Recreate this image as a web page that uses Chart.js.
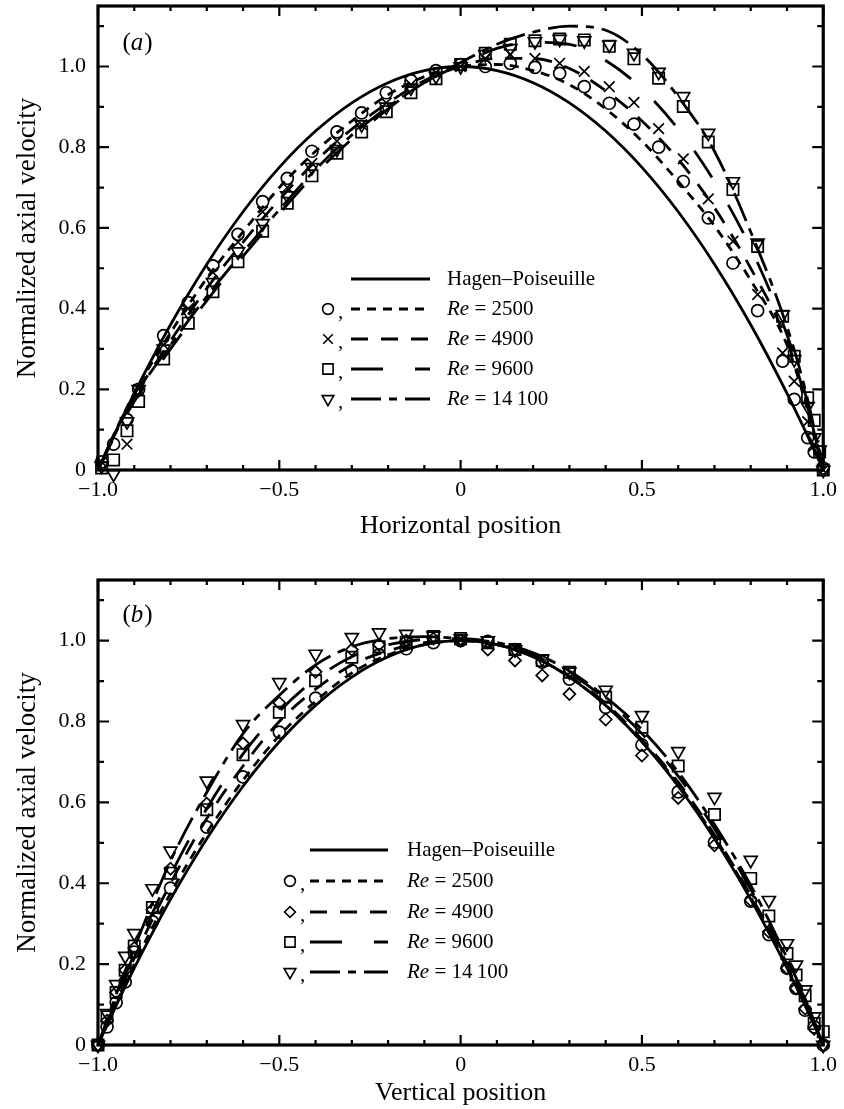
<!DOCTYPE html>
<html>
<head>
<meta charset="utf-8">
<script src="https://cdn.jsdelivr.net/npm/chart.js@4.4.0/dist/chart.umd.min.js"></script>
<style>
  html, body { margin: 0; padding: 0; background: #fff; }
  #wrap { position: relative; width: 844px; height: 1109px; overflow: hidden; }
  #chartA { position: absolute; left: 0; top: -24px; }
  #chartB { position: absolute; left: 0; top: 550px; }
</style>
</head>
<body>
<div id="wrap">
  <canvas id="chartA" width="844" height="574"></canvas>
  <canvas id="chartB" width="844" height="559"></canvas>
</div>
<script>
// axis ticks
var xTickVals = [-1, -0.5, 0, 0.5, 1];
var xTickLabels = ['−1.0', '−0.5', '0', '0.5', '1.0'];
var yTickVals = [0, 0.2, 0.4, 0.6, 0.8, 1.0];
var yTickLabels = ['0', '0.2', '0.4', '0.6', '0.8', '1.0'];
var reLabels = ['2500', '4900', '9600', '14\u2009100'];

// fitted curves (at these positions)
var curveX = [-1, -0.95, -0.9, -0.8, -0.7, -0.6, -0.5, -0.4, -0.3, -0.2, -0.1, 0, 0.1, 0.2, 0.3, 0.4, 0.5, 0.6, 0.7, 0.8, 0.9, 0.95, 1];
var hagenPoiseuille = [0, 0.0975, 0.19, 0.36, 0.51, 0.64, 0.75, 0.84, 0.91, 0.96, 0.99, 1.0, 0.99, 0.96, 0.91, 0.84, 0.75, 0.64, 0.51, 0.36, 0.19, 0.0975, 0];

var fitA2500  = [0, 0.10, 0.19, 0.34, 0.475, 0.59, 0.70, 0.79, 0.865, 0.93, 0.975, 1.0, 1.005, 0.99, 0.955, 0.895, 0.815, 0.715, 0.605, 0.47, 0.31, 0.17, 0];
var fitA4900  = [0, 0.095, 0.18, 0.32, 0.45, 0.565, 0.67, 0.765, 0.845, 0.91, 0.965, 1.0, 1.02, 1.02, 0.995, 0.94, 0.865, 0.77, 0.65, 0.5, 0.32, 0.18, 0];
var fitA9600  = [0, 0.09, 0.17, 0.30, 0.42, 0.53, 0.635, 0.735, 0.82, 0.895, 0.96, 1.005, 1.045, 1.06, 1.055, 1.015, 0.945, 0.845, 0.715, 0.55, 0.335, 0.19, 0];
var fitA14100 = [0, 0.095, 0.18, 0.31, 0.43, 0.54, 0.645, 0.745, 0.83, 0.9, 0.96, 1.01, 1.055, 1.085, 1.10, 1.09, 1.03, 0.925, 0.79, 0.59, 0.355, 0.2, 0];

var fitB2500  = [0, 0.10, 0.20, 0.375, 0.525, 0.655, 0.765, 0.85, 0.92, 0.965, 0.99, 1.0, 0.99, 0.96, 0.91, 0.84, 0.75, 0.645, 0.515, 0.365, 0.195, 0.10, 0];
var fitB4900  = [0, 0.11, 0.215, 0.40, 0.56, 0.69, 0.80, 0.88, 0.94, 0.975, 0.995, 1.0, 0.99, 0.96, 0.912, 0.845, 0.755, 0.65, 0.52, 0.37, 0.20, 0.105, 0];
var fitB9600  = [0, 0.115, 0.225, 0.42, 0.585, 0.72, 0.825, 0.905, 0.96, 0.99, 1.003, 1.005, 0.995, 0.965, 0.92, 0.855, 0.77, 0.665, 0.535, 0.385, 0.21, 0.11, 0];
var fitB14100 = [0, 0.125, 0.24, 0.455, 0.625, 0.77, 0.865, 0.94, 0.985, 1.005, 1.01, 1.005, 0.995, 0.97, 0.925, 0.86, 0.78, 0.675, 0.545, 0.395, 0.215, 0.115, 0];

// measured points, panel (a) horizontal
var posA = [-0.99, -0.975, -0.957, -0.92, -0.888, -0.819, -0.751, -0.683, -0.614, -0.546, -0.478, -0.41, -0.341, -0.273, -0.205, -0.137, -0.068, 0,
            0.068, 0.137, 0.205, 0.273, 0.341, 0.41, 0.478, 0.546, 0.614, 0.683, 0.751, 0.819, 0.888, 0.92, 0.957, 0.975, 0.99, 1.0];
var circA   = [0.02, null, 0.064, 0.125, 0.20, 0.333, 0.415, 0.506, 0.584, 0.665, 0.723, 0.79, 0.838, 0.885, 0.935, 0.965, 0.99, 1.005,
               1.0, 1.008, 0.998, 0.983, 0.95, 0.909, 0.857, 0.80, 0.715, 0.625, 0.513, 0.395, 0.27, 0.175, 0.08, 0.045, null, 0.005];
var crossA  = [0.02, null, null, 0.064, 0.20, 0.31, 0.40, 0.49, 0.565, 0.64, 0.70, 0.76, 0.815, 0.856, 0.91, 0.955, 0.985, 1.0,
               1.02, 1.03, 1.02, 1.008, 0.988, 0.95, 0.911, 0.846, 0.771, 0.672, 0.567, 0.435, 0.29, 0.22, 0.12, 0.06, null, 0];
var squareA = [0.005, null, 0.025, 0.097, 0.17, 0.275, 0.364, 0.442, 0.516, 0.592, 0.661, 0.729, 0.785, 0.838, 0.888, 0.935, 0.97, 1.005,
               1.033, 1.055, 1.064, 1.068, 1.066, 1.05, 1.019, 0.971, 0.901, 0.813, 0.695, 0.554, 0.381, 0.282, 0.179, 0.123, 0.045, 0];
var triA    = [0.01, null, -0.01, 0.12, 0.20, 0.30, 0.39, 0.465, 0.541, 0.611, 0.68, 0.75, 0.795, 0.856, 0.90, 0.947, 0.976, 1.0,
               1.03, 1.045, 1.062, 1.068, 1.064, 1.054, 1.033, 0.986, 0.926, 0.835, 0.715, 0.563, 0.385, 0.274, 0.158, 0.08, 0.05, 0];

// measured points, panel (b) vertical
var posB = [-1, -0.975, -0.95, -0.925, -0.9, -0.85, -0.8, -0.7, -0.6, -0.5, -0.4, -0.3, -0.225, -0.15, -0.075, 0,
            0.075, 0.15, 0.225, 0.3, 0.4, 0.5, 0.6, 0.7, 0.8, 0.85, 0.9, 0.925, 0.95, 0.975, 1.0];
var circB   = [0, 0.045, 0.105, 0.156, 0.23, 0.305, 0.388, 0.539, 0.663, 0.774, 0.858, 0.926, 0.965, 0.98, 0.995, 1.0,
               0.998, 0.978, 0.947, 0.905, 0.835, 0.742, 0.626, 0.502, 0.356, 0.273, 0.19, 0.14, 0.086, 0.045, 0];
var diamB   = [0, 0.06, 0.13, 0.185, 0.24, 0.335, 0.436, 0.597, 0.746, 0.846, 0.923, 0.978, 0.99, 1.0, 1.005, 1.0,
               0.978, 0.951, 0.914, 0.868, 0.805, 0.716, 0.611, 0.494, 0.358, 0.28, 0.19, 0.14, 0.09, 0.04, 0];
var squareB = [0, 0.07, 0.13, 0.185, 0.245, 0.34, 0.425, 0.582, 0.718, 0.823, 0.901, 0.959, 0.985, 0.996, 1.01, 1.005,
               0.995, 0.978, 0.951, 0.922, 0.86, 0.786, 0.69, 0.57, 0.412, 0.319, 0.226, 0.173, 0.122, 0.053, 0.033];
var triB    = [0, 0.078, 0.15, 0.22, 0.276, 0.387, 0.48, 0.653, 0.793, 0.897, 0.967, 1.008, 1.02, 1.016, 1.012, 1.005,
               1.0, 0.978, 0.955, 0.923, 0.878, 0.815, 0.726, 0.613, 0.457, 0.358, 0.251, 0.198, 0.137, 0.07, 0];

var SERIF = '"Liberation Serif", "Times New Roman", serif';
Chart.defaults.font.family = SERIF;
Chart.defaults.color = '#000';

var dashes = [[], [9, 7], [17, 13], [32, 32], [30, 8, 8, 8]];
var markA = [
  {pointStyle: 'circle', radius: 6, rotation: 0},
  {pointStyle: 'crossRot', radius: 7.5, rotation: 0},
  {pointStyle: 'rect', radius: 8, rotation: 0},
  {pointStyle: 'triangle', radius: 7.5, rotation: 180}
];
var markB = [
  {pointStyle: 'circle', radius: 6, rotation: 0},
  {pointStyle: 'rectRot', radius: 6, rotation: 0},
  {pointStyle: 'rect', radius: 8, rotation: 0},
  {pointStyle: 'triangle', radius: 7.5, rotation: 180}
];

function pts(xs, ys) {
  var out = [];
  for (var i = 0; i < xs.length; i++) {
    if (ys[i] != null) out.push({x: xs[i], y: ys[i]});
  }
  return out;
}

function curve(ys, dash) {
  return {
    data: pts(curveX, ys), showLine: true, pointRadius: 0, borderColor: '#000',
    borderWidth: 2.8, borderDash: dash, cubicInterpolationMode: 'monotone', fill: false
  };
}

function marks(xs, ys, m) {
  return {
    data: pts(xs, ys), showLine: false, pointStyle: m.pointStyle, pointRadius: m.radius,
    pointRotation: m.rotation, pointBorderColor: '#000', pointBackgroundColor: 'rgba(0,0,0,0)',
    pointBorderWidth: 1.7, clip: false
  };
}

// frame, inward ticks, panel letter, legend
var frameDeco = {
  id: 'frameDeco',
  afterDraw: function(chart, args, opts) {
    var ctx = chart.ctx, a = chart.chartArea;
    var xs = chart.scales.x, ys = chart.scales.y;
    ctx.save();
    ctx.strokeStyle = '#000';
    ctx.fillStyle = '#000';
    ctx.setLineDash([]);
    ctx.lineWidth = 2.2;
    for (var i = 0; i <= 20; i++) {
      var px = xs.getPixelForValue(-1 + i / 10);
      var len = i % 5 === 0 ? 10 : 5;
      ctx.beginPath();
      ctx.moveTo(px, a.bottom); ctx.lineTo(px, a.bottom - len);
      ctx.moveTo(px, a.top); ctx.lineTo(px, a.top + len);
      ctx.stroke();
    }
    for (var j = 0; j <= 11; j++) {
      var py = ys.getPixelForValue(j / 10);
      var len2 = j % 2 === 0 ? 11 : 6;
      ctx.beginPath();
      ctx.moveTo(a.left, py); ctx.lineTo(a.left + len2, py);
      ctx.moveTo(a.right, py); ctx.lineTo(a.right - len2, py);
      ctx.stroke();
    }
    ctx.lineWidth = 3.2;
    ctx.strokeRect(a.left, a.top, a.right - a.left, a.bottom - a.top);

    // panel letter (a) / (b)
    ctx.textBaseline = 'middle';
    ctx.textAlign = 'left';
    var up = '25px ' + SERIF, it = 'italic 25px ' + SERIF;
    ctx.font = up; var w1 = ctx.measureText('(').width, w3 = ctx.measureText(')').width;
    ctx.font = it; var w2 = ctx.measureText(opts.letter).width;
    var lx = opts.letterX - (w1 + w2 + w3) / 2;
    ctx.font = up; ctx.fillText('(', lx, opts.letterY);
    ctx.font = it; ctx.fillText(opts.letter, lx + w1, opts.letterY);
    ctx.font = up; ctx.fillText(')', lx + w1 + w2 + 1, opts.letterY);

    // legend
    var lg = opts.legend;
    for (var k = 0; k < 5; k++) {
      var y = lg.rowY[k];
      ctx.setLineDash(dashes[k]);
      ctx.lineWidth = 2.8;
      ctx.beginPath(); ctx.moveTo(lg.lineX0, y); ctx.lineTo(lg.lineX1, y); ctx.stroke();
      ctx.setLineDash([]);
      ctx.font = '21px ' + SERIF;
      if (k === 0) {
        ctx.fillText('Hagen–Poiseuille', lg.textX, y);
        continue;
      }
      var m = lg.marks[k - 1];
      ctx.save();
      ctx.fillStyle = 'rgba(0,0,0,0)';
      ctx.lineWidth = 1.6;
      Chart.helpers.drawPoint(ctx, {pointStyle: m.pointStyle, radius: m.radius * 0.9, rotation: m.rotation, borderWidth: 1.6}, lg.markX, y);
      ctx.restore();
      ctx.fillText(',', lg.commaX, y + 3);
      ctx.font = 'italic 21px ' + SERIF;
      ctx.fillText('Re', lg.textX, y);
      var rw = ctx.measureText('Re').width;
      ctx.font = '21px ' + SERIF;
      ctx.fillText(' = ' + reLabels[k - 1], lg.textX + rw, y);
    }
    ctx.restore();
  }
};

function makeOptions(cfg) {
  return {
    responsive: false,
    animation: false,
    devicePixelRatio: 1,
    layout: {padding: {top: cfg.padTop, right: 18, left: 0, bottom: 0}},
    plugins: {legend: {display: false}, tooltip: {enabled: false}, frameDeco: cfg.deco},
    scales: {
      x: {
        type: 'linear', min: -1, max: 1,
        grid: {display: false, drawTicks: false},
        border: {display: false},
        afterBuildTicks: function(s) { s.ticks = xTickVals.map(function(v) { return {value: v}; }); },
        afterFit: function(s) { s.height = cfg.xHeight; },
        ticks: {font: {size: 22}, padding: 7, maxRotation: 0, autoSkip: false,
                callback: function(v, i) { return xTickLabels[i]; }},
        title: {display: true, text: cfg.xTitle, font: {size: 26}, padding: {top: 0, bottom: cfg.titlePad}}
      },
      y: {
        type: 'linear', min: 0, max: 1.15,
        grid: {display: false, drawTicks: false},
        border: {display: false},
        afterBuildTicks: function(s) { s.ticks = yTickVals.map(function(v) { return {value: v}; }); },
        afterFit: function(s) { s.width = 98; },
        ticks: {font: {size: 22}, padding: 12, autoSkip: false,
                callback: function(v, i) { return yTickLabels[i]; }},
        title: {display: true, text: 'Normalized axial velocity', font: {size: 27}, padding: {top: 12, bottom: 0}}
      }
    }
  };
}

new Chart(document.getElementById('chartA'), {
  type: 'scatter',
  data: {
    datasets: [
      curve(hagenPoiseuille, dashes[0]),
      curve(fitA2500, dashes[1]),
      curve(fitA4900, dashes[2]),
      curve(fitA9600, dashes[3]),
      curve(fitA14100, dashes[4]),
      marks(posA, circA, markA[0]),
      marks(posA, crossA, markA[1]),
      marks(posA, squareA, markA[2]),
      marks(posA, triA, markA[3])
    ]
  },
  options: makeOptions({
    padTop: 30, xHeight: 80, titlePad: 8, xTitle: 'Horizontal position',
    deco: {
      letter: 'a', letterX: 137, letterY: 67,
      legend: {rowY: [303, 333, 363, 393, 423], markX: 328, commaX: 338, lineX0: 351, lineX1: 430, textX: 447, marks: markA}
    }
  }),
  plugins: [frameDeco]
});

new Chart(document.getElementById('chartB'), {
  type: 'scatter',
  data: {
    datasets: [
      curve(hagenPoiseuille, dashes[0]),
      curve(fitB2500, dashes[1]),
      curve(fitB4900, dashes[2]),
      curve(fitB9600, dashes[3]),
      curve(fitB14100, dashes[4]),
      marks(posB, circB, markB[0]),
      marks(posB, diamB, markB[1]),
      marks(posB, squareB, markB[2]),
      marks(posB, triB, markB[3])
    ]
  },
  options: makeOptions({
    padTop: 30, xHeight: 64, titlePad: 0, xTitle: 'Vertical position',
    deco: {
      letter: 'b', letterX: 137, letterY: 65,
      legend: {rowY: [300, 331, 362, 392, 422], markX: 290, commaX: 300, lineX0: 310, lineX1: 388, textX: 407, marks: markB}
    }
  }),
  plugins: [frameDeco]
});
</script>
</body>
</html>
